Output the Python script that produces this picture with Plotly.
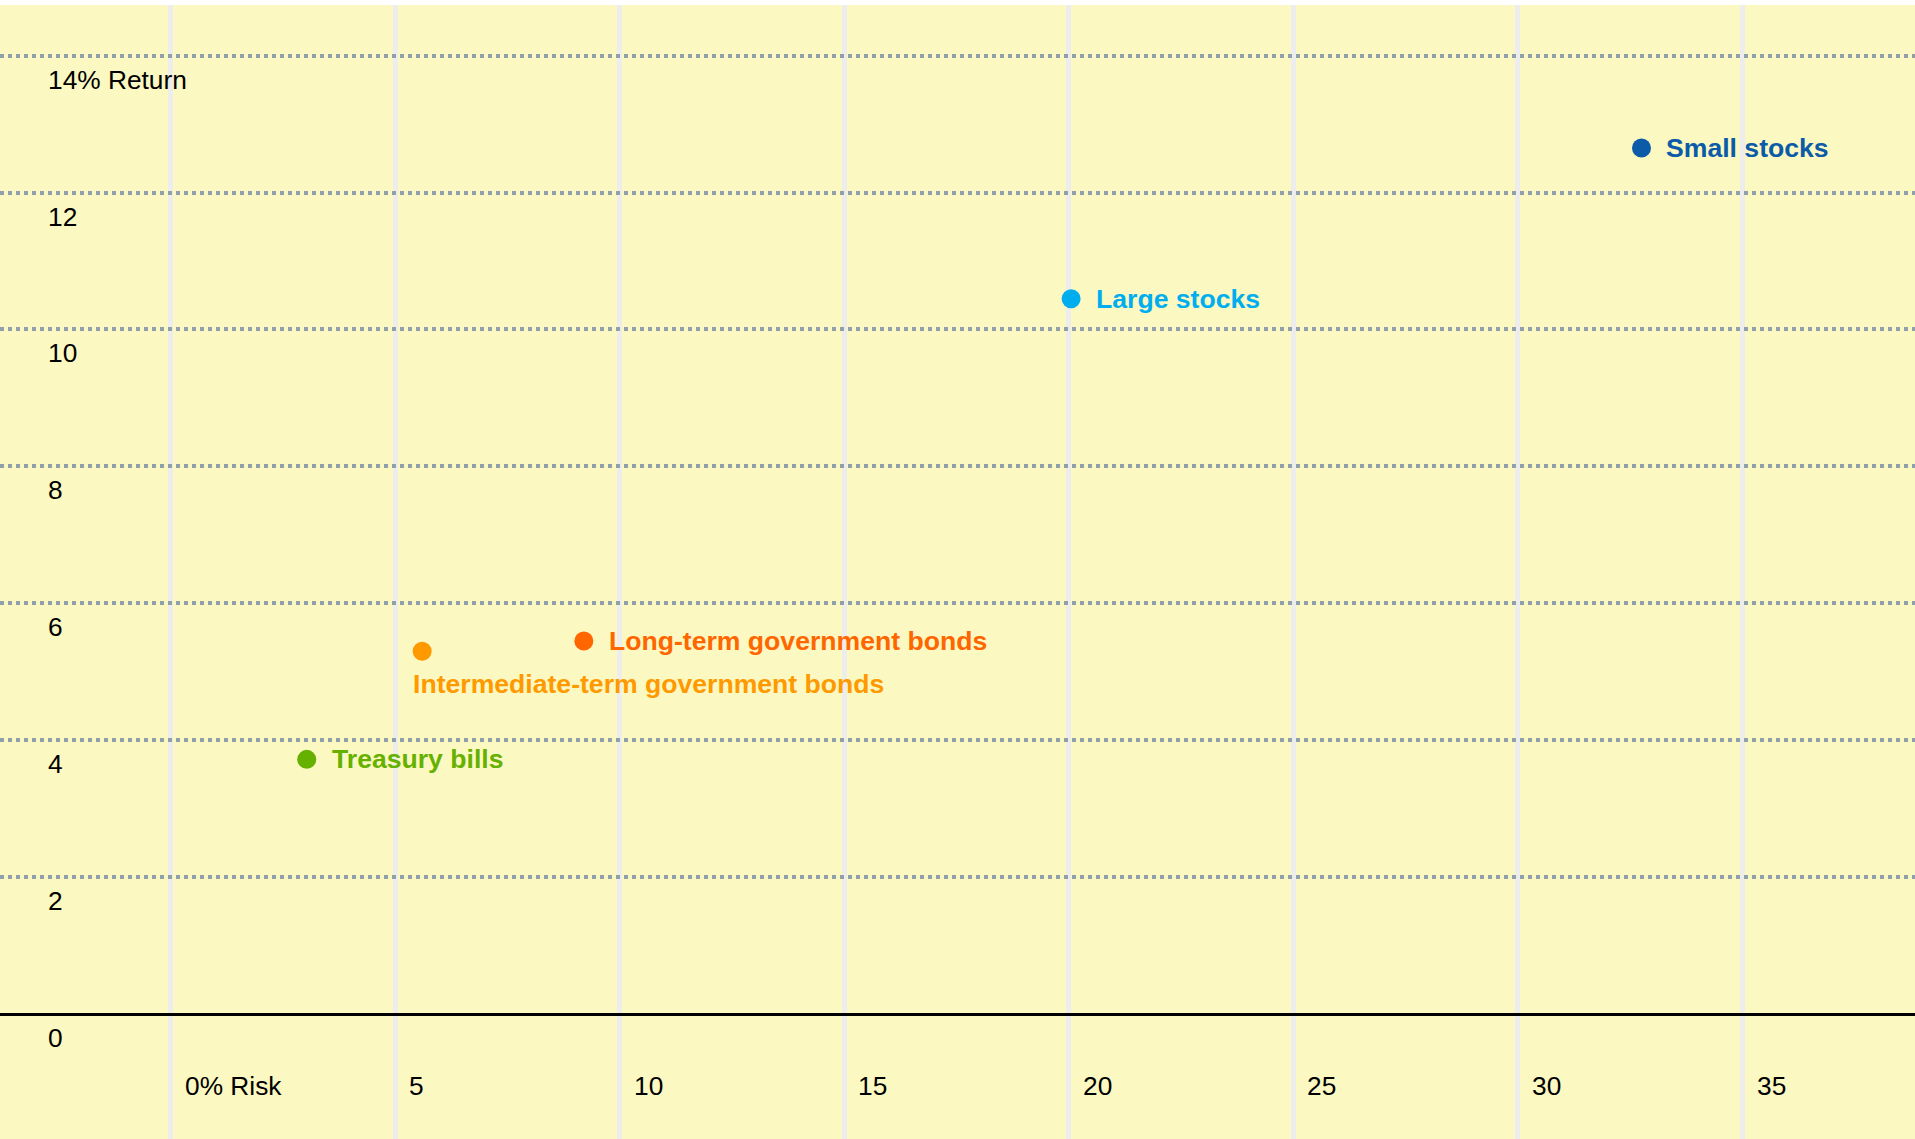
import plotly.graph_objects as go

# ---- data ----
names = ["Small stocks", "Large stocks", "Long-term government bonds",
         "Intermediate-term government bonds", "Treasury bills"]
risk = [32.75, 20.05, 9.2, 5.6, 3.03]
ret = [12.65, 10.45, 5.45, 5.3, 3.72]
colors = ["#0B5BA8", "#00AEEF", "#FF6600", "#FF9900", "#66B000"]

x_ticks = [0, 5, 10, 15, 20, 25, 30, 35]
x_tick_labels = ["0% Risk", "5", "10", "15", "20", "25", "30", "35"]
y_ticks = [0, 2, 4, 6, 8, 10, 12, 14]
y_tick_labels = ["0", "2", "4", "6", "8", "10", "12", "14% Return"]

FONT = "Liberation Sans, Arial, sans-serif"
W, H = 1915, 1139

fig = go.Figure()

annotations = []
for n, xv, yv, c in zip(names, risk, ret, colors):
    fig.add_trace(go.Scatter(x=[xv], y=[yv], mode="markers",
                             marker=dict(size=19, color=c, line=dict(width=0)),
                             name=n, showlegend=False, hoverinfo="text", text=[n]))
    if n.startswith("Intermediate"):
        annotations.append(dict(x=xv, y=yv, xref="x", yref="y", text="<b>%s</b>" % n,
                                showarrow=False, xanchor="left", yanchor="middle",
                                xshift=-11, yshift=-33,
                                font=dict(family=FONT, size=26.6, color=c)))
    else:
        annotations.append(dict(x=xv, y=yv, xref="x", yref="y", text="<b>%s</b>" % n,
                                showarrow=False, xanchor="left", yanchor="middle",
                                xshift=23, yshift=0,
                                font=dict(family=FONT, size=26.6, color=c)))

for v, t in zip(x_ticks, x_tick_labels):
    annotations.append(dict(x=v, y=0, xref="x", yref="y", text=t, showarrow=False,
                            xanchor="left", yanchor="middle", xshift=12, yshift=-72,
                            font=dict(family=FONT, size=26.3, color="#000000")))
for v, t in zip(y_ticks, y_tick_labels):
    annotations.append(dict(x=45.5 / W, y=v, xref="paper", yref="y", text=t, showarrow=False,
                            xanchor="left", yanchor="middle", yshift=-24,
                            font=dict(family=FONT, size=26.3, color="#000000")))

fig.update_layout(
    width=W, height=H,
    margin=dict(l=0, r=0, t=5, b=0),
    paper_bgcolor="#FFFFFF",
    plot_bgcolor="#FBF9C1",
    annotations=annotations,
    xaxis=dict(range=[-3.80, 38.84], tick0=0, dtick=5, showgrid=True,
               gridcolor="#EDEDEE", gridwidth=4.5, zeroline=False,
               showticklabels=False, showline=False, ticks="", fixedrange=True),
    yaxis=dict(range=[-1.826, 14.74], tick0=0, dtick=2, showgrid=True,
               gridcolor="#8FA0AB", gridwidth=3.5, griddash="3.5px,4.5px",
               zeroline=True, zerolinecolor="#000000", zerolinewidth=2.5,
               showticklabels=False, showline=False, ticks="", fixedrange=True),
)

fig.write_html("out.html")
